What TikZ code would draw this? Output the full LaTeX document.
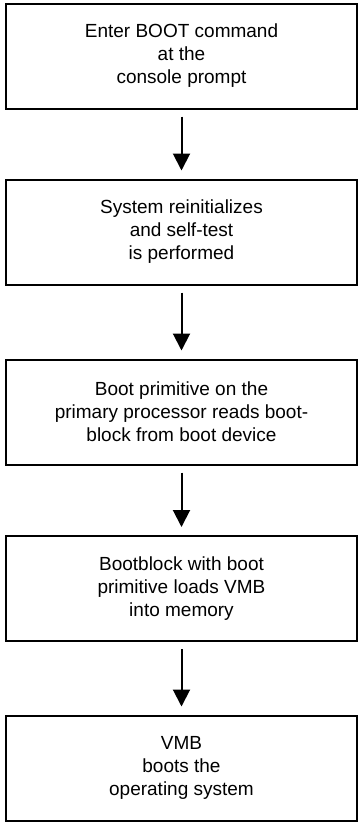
\documentclass[tikz,border=0pt]{standalone}
\usepackage{fontspec}
\setmainfont{Liberation Sans}
\usepackage{tikz}
\usetikzlibrary{positioning, arrows.meta}

\begin{document}
\begin{tikzpicture}[x=1pt, y=1pt,
    bootbox/.style={draw, line width=2pt, minimum width=351pt, minimum height=105pt,
      align=center, inner sep=0pt, font=\fontsize{19}{23}\selectfont},
    flow/.style={line width=2pt, -{Triangle[width=17pt,length=17pt]},
      shorten <=7pt, shorten >=8pt}]
  % Page frame
  \useasboundingbox (0,0) rectangle (360,-822);

  % Boxes
  \node[bootbox] (enter) at (181.5,-56) {Enter BOOT command\\at the\\console prompt};
  \node[bootbox] (reinit) at (181.5,-232) {System reinitializes\\and self-test\\is performed};
  \node[bootbox] (primitive) at (181.5,-412) {Boot primitive on the\\primary processor reads boot-\\block from boot device};
  \node[bootbox] (bootblock) at (181.5,-588.5) {Bootblock with boot\\primitive loads VMB\\into memory};
  \node[bootbox] (vmb) at (181.5,-768) {VMB\\boots the\\operating system};

  % Arrows between the steps
  \draw[flow] (enter) -- (reinit);
  \draw[flow] (reinit) -- (primitive);
  \draw[flow] (primitive) -- (bootblock);
  \draw[flow] (bootblock) -- (vmb);
\end{tikzpicture}
\end{document}
